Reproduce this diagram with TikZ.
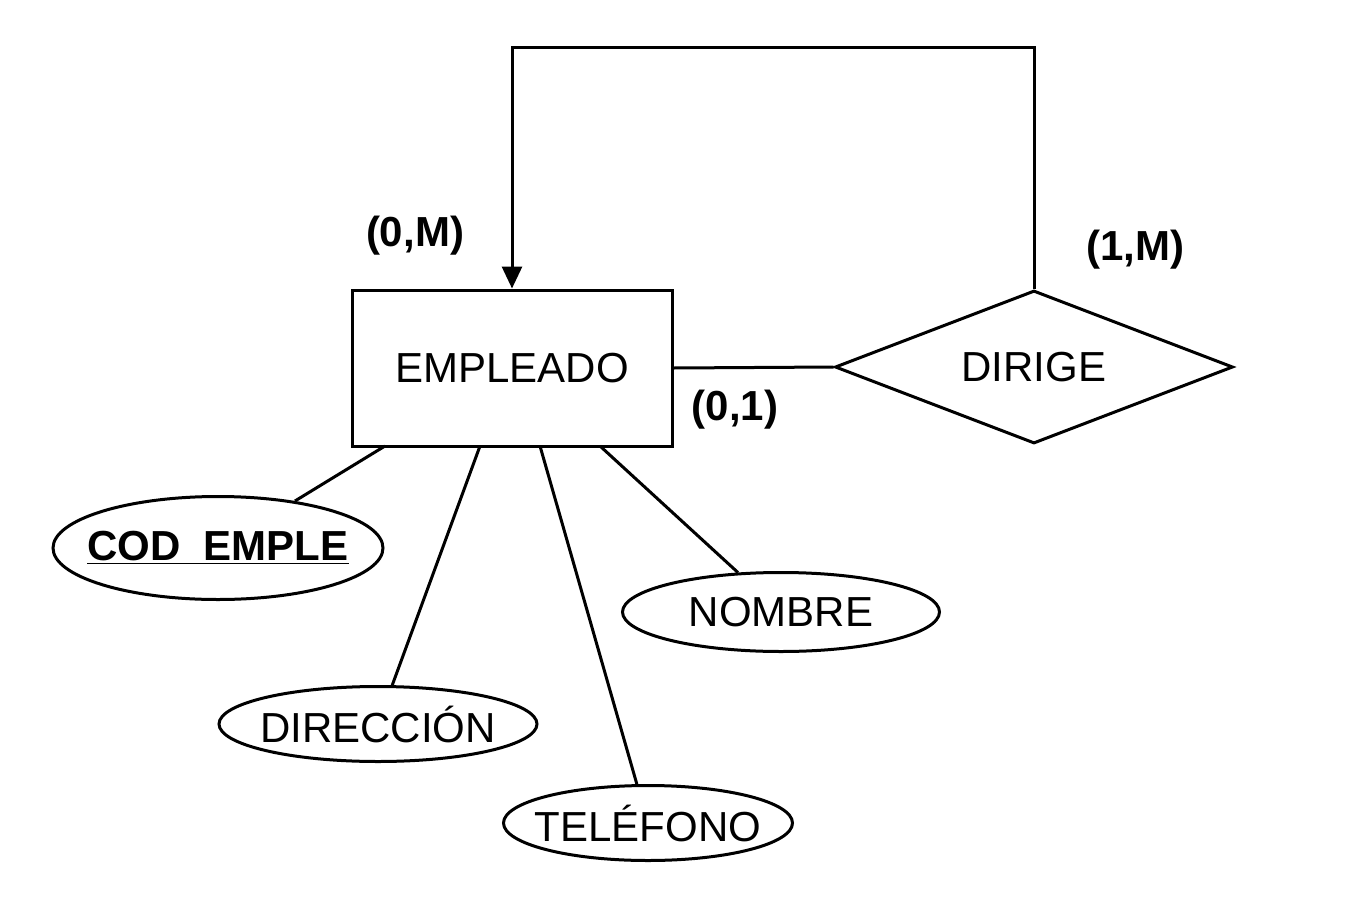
\documentclass[tikz,border=0pt]{standalone}
\usepackage{fontspec}
\setmainfont{Liberation Sans}
\usetikzlibrary{shapes.geometric,arrows.meta}
\newcommand{\zw}[1]{\makebox[0pt]{#1}}
\begin{document}
\begin{tikzpicture}[x=0.5pt,y=-0.5pt,
  line width=1.5pt,
  every node/.style={font=\fontsize{21pt}{24pt}\selectfont},
  entity/.style={draw,rectangle,minimum width=160pt,minimum height=78pt,inner sep=0pt},
  relation/.style={draw,diamond,minimum width=199pt,minimum height=76.5pt,inner sep=0pt},
  attrib/.style={draw,ellipse,inner sep=0pt},
  card/.style={font=\fontsize{21pt}{24pt}\selectfont\bfseries},
  conn/.style={line width=1.5pt},
  arr/.style={-{Triangle[length=11pt,width=10pt]}}]
\useasboundingbox (0,0) rectangle (1356,905);
\node[entity] (emp) at (512,368) {EMPLEADO};
\node[relation] (dir) at (1034,367) {\zw{DIRIGE}};
\node[attrib,minimum width=165pt,minimum height=51.5pt] (cod) at (218,548) {\zw{\bfseries\underline{COD\hspace{0.55em}EMPLE}}};
\node[attrib,minimum width=158.5pt,minimum height=39.5pt] (nom) at (781,612) {\zw{NOMBRE}};
\node[attrib,minimum width=159pt,minimum height=37.5pt] (drc) at (378,724) {\zw{DIRECCIÓN}};
\node[attrib,minimum width=144.5pt,minimum height=37.5pt] (tel) at (648,823) {\zw{TELÉFONO}};
\node[card] (l0m) at (415,236) {(0,M)};
\node[card] (l1m) at (1135,250) {(1,M)};
\node[card] (l01) at (735,410) {(0,1)};
\coordinate (c1) at (1034,47);
\coordinate (c2) at (512,47);
\coordinate (e1) at (385,446);
\coordinate (e2) at (480,446);
\coordinate (e3) at (540,446);
\coordinate (e4) at (600,446);
\draw[conn] (emp.east) -- (dir.west);
\draw[conn,arr] (dir.north) -- (c1) -- (c2) -- (emp.north);
\draw[conn] (e1) -- (cod);
\draw[conn] (e2) -- (drc);
\draw[conn] (e3) -- (tel);
\draw[conn] (e4) -- (nom);
\end{tikzpicture}
\end{document}
